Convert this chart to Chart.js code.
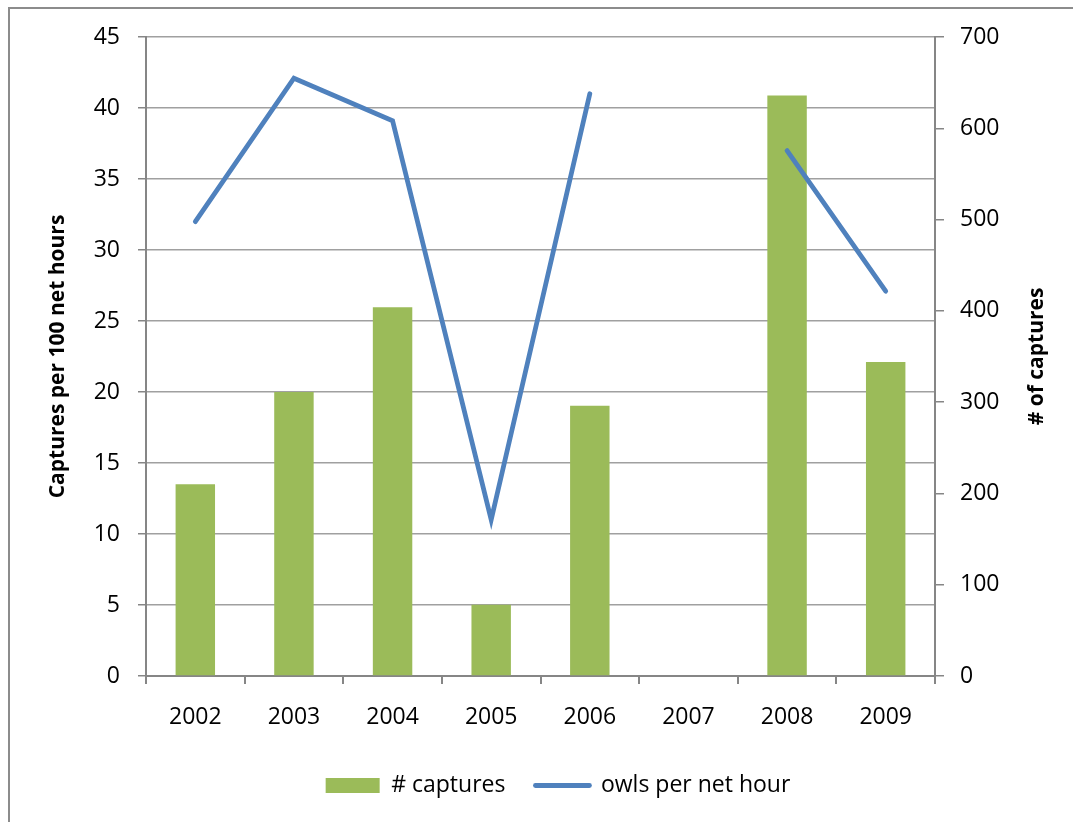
<!DOCTYPE html>
<html>
<head>
<meta charset="utf-8">
<script src="https://cdn.jsdelivr.net/npm/chart.js@4"></script>
<style>
  html, body { margin: 0; padding: 0; background: #fff; overflow: hidden; }
  #wrap { position: relative; width: 1073px; height: 822px; overflow: hidden; }
  #frame { position: absolute; left: 8px; top: 7px; width: 1200px; height: 900px;
           border-left: 2px solid #8c8c8c; border-top: 2px solid #8c8c8c; pointer-events: none; }
</style>
</head>
<body>
<div id="wrap">
  <canvas id="chart" width="1073" height="822"></canvas>
  <div id="frame"></div>
</div>
<script>
var years = ['2002', '2003', '2004', '2005', '2006', '2007', '2008', '2009']
var captures = [210, 311, 404, 78, 296, null, 636, 344]
var owlsPerNetHour = [32, 42.1, 39.1, 11, 41, null, 37, 27.1]
var leftTicks = [0, 5, 10, 15, 20, 25, 30, 35, 40, 45]
var rightTicks = [0, 100, 200, 300, 400, 500, 600, 700]

var FONT = "'Open Sans', sans-serif"
var AXIS = '#868686'

Chart.defaults.color = '#000'
Chart.defaults.font.family = FONT

// right axis title reads bottom-to-top, so draw it ourselves
var rightTitle = {
  id: 'rightTitle',
  afterDraw: function (chart) {
    var c = chart.ctx
    var area = chart.chartArea
    c.save()
    c.translate(1037, (area.top + area.bottom) / 2)
    c.rotate(-Math.PI / 2)
    c.font = 'bold 21px ' + FONT
    c.fillStyle = '#000'
    c.textAlign = 'center'
    c.textBaseline = 'middle'
    c.fillText('# of captures', 0, 0)
    c.restore()
  }
}

new Chart(document.getElementById('chart'), {
  type: 'bar',
  data: {
    labels: years,
    datasets: [{
      type: 'bar',
      label: '# captures',
      data: captures,
      yAxisID: 'y1',
      backgroundColor: '#9BBB59',
      borderWidth: 0,
      barPercentage: 0.4,
      categoryPercentage: 1,
      order: 2
    }, {
      type: 'line',
      label: 'owls per net hour',
      data: owlsPerNetHour,
      yAxisID: 'y',
      borderColor: '#4F81BD',
      backgroundColor: '#4F81BD',
      borderWidth: 4.8,
      borderCapStyle: 'round',
      pointRadius: 0,
      spanGaps: false,
      tension: 0,
      order: 1
    }]
  },
  options: {
    responsive: false,
    animation: false,
    layout: { padding: { left: 43, right: 0, top: 37, bottom: 15 } },
    plugins: {
      tooltip: { enabled: false },
      legend: {
        position: 'bottom',
        labels: {
          usePointStyle: true,
          pointStyleWidth: 54,
          boxHeight: 15,
          padding: 30,
          font: { size: 23 },
          color: '#000',
          sort: function (a, b) { return a.datasetIndex - b.datasetIndex },
          generateLabels: function (chart) {
            var items = Chart.defaults.plugins.legend.labels.generateLabels(chart)
            items.forEach(function (it) {
              if (it.datasetIndex === 0) {
                it.pointStyle = 'rect'
                it.lineWidth = 0
                it.fillStyle = '#9BBB59'
                it.strokeStyle = '#9BBB59'
              } else {
                it.pointStyle = 'line'
                it.lineWidth = 4.8
                it.strokeStyle = '#4F81BD'
                it.lineCap = 'round'
              }
            })
            return items
          }
        }
      }
    },
    scales: {
      x: {
        offset: true,
        afterFit: function (s) { s.height = 68 },
        grid: { offset: true, drawOnChartArea: false, tickLength: 8, color: AXIS, lineWidth: 2 },
        border: { color: AXIS, width: 2 },
        ticks: { font: { size: 23 }, padding: 20, color: '#000' }
      },
      y: {
        position: 'left',
        min: 0,
        max: 45,
        afterFit: function (s) { s.width = 103 },
        afterBuildTicks: function (s) { s.ticks = leftTicks.map(function (v) { return { value: v } }) },
        grid: { color: '#a0a0a0', lineWidth: 1.5, tickLength: 8, tickColor: AXIS },
        border: { color: AXIS, width: 2 },
        ticks: { font: { size: 23 }, padding: 18, color: '#000' },
        title: {
          display: true,
          text: 'Captures per 100 net hours',
          font: { size: 21, weight: 'bold' },
          color: '#000',
          padding: { top: 2, bottom: 0 }
        }
      },
      y1: {
        position: 'right',
        min: 0,
        max: 700,
        afterFit: function (s) { s.width = 138 },
        afterBuildTicks: function (s) { s.ticks = rightTicks.map(function (v) { return { value: v } }) },
        grid: { drawOnChartArea: false, tickLength: 9, color: AXIS, lineWidth: 1.5 },
        border: { color: AXIS, width: 2 },
        ticks: { font: { size: 23 }, padding: 16, color: '#000' }
      }
    }
  },
  plugins: [rightTitle]
})
</script>
</body>
</html>
